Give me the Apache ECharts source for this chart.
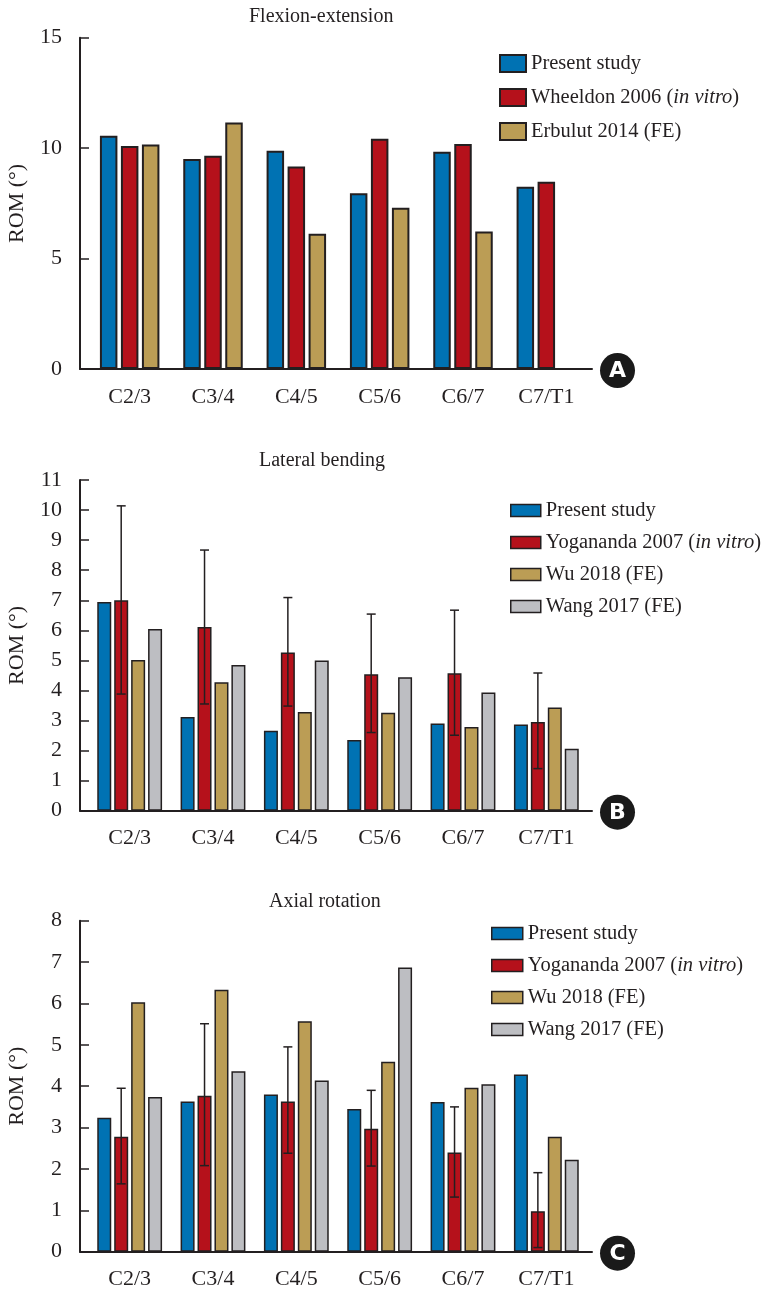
<!DOCTYPE html>
<html>
<head>
<meta charset="utf-8">
<title>ROM comparison</title>
<script src="https://cdn.jsdelivr.net/npm/echarts@6/dist/echarts.min.js"></script>
<style>
  html, body { margin: 0; padding: 0; background: #fff; }
  #chart { width: 764px; height: 1302px; }
</style>
</head>
<body>
<div id="chart"></div>
<script>
// categories (spinal levels)
const categories = ['C2/3', 'C3/4', 'C4/5', 'C5/6', 'C6/7', 'C7/T1']

// A - flexion-extension
const feNames = ['Present study', 'Wheeldon 2006 (in vitro)', 'Erbulut 2014 (FE)']
const fePresent = [10.56, 9.51, 9.88, 7.96, 9.84, 8.25]
const feWheeldon = [10.1, 9.65, 9.17, 10.43, 10.19, 8.48]
const feErbulut = [10.16, 11.16, 6.12, 7.3, 6.22, null]
const feTicks = [0, 5, 10, 15]

// B - lateral bending
const lbNames = ['Present study', 'Yogananda 2007 (in vitro)', 'Wu 2018 (FE)', 'Wang 2017 (FE)']
const lbPresent = [6.94, 3.12, 2.66, 2.35, 2.9, 2.87]
const lbYogananda = [7.0, 6.11, 5.26, 4.54, 4.57, 2.95]
const lbYogLow = [3.88, 3.55, 3.48, 2.6, 2.51, 1.4]
const lbYogHigh = [10.14, 8.67, 7.09, 6.54, 6.67, 4.58]
const lbWu = [5.01, 4.27, 3.28, 3.26, 2.78, 3.43]
const lbWang = [6.04, 4.85, 5.0, 4.44, 3.93, 2.06]
const lbTicks = [0, 1, 2, 3, 4, 5, 6, 7, 8, 9, 10, 11]

// C - axial rotation
const arNames = ['Present study', 'Yogananda 2007 (in vitro)', 'Wu 2018 (FE)', 'Wang 2017 (FE)']
const arPresent = [3.24, 3.63, 3.8, 3.45, 3.62, 4.28]
const arYogananda = [2.78, 3.77, 3.63, 2.97, 2.4, 0.98]
const arYogLow = [1.64, 2.08, 2.38, 2.07, 1.32, 0.1]
const arYogHigh = [3.95, 5.51, 4.95, 3.9, 3.5, 1.91]
const arWu = [6.03, 6.33, 5.57, 4.59, 3.96, 2.78]
const arWang = [3.74, 4.36, 4.14, 6.87, 4.05, 2.22]
const arTicks = [0, 1, 2, 3, 4, 5, 6, 7, 8]

const COLORS = ['#0072b3', '#b5111b', '#bb9d55', '#bdbec2']
const INK = '#231f20'
const SERIF = '"Liberation Serif", "DejaVu Serif", serif'

const panels = [
  {
    title: 'Flexion-extension', titleLeft: 249, titleTop: 7,
    top: 37.7, bottom: 369, ticks: feTicks,
    names: feNames, values: [fePresent, feWheeldon, feErbulut],
    barWidth: 17.5, barGap: 0.2, border: 2,
    legend: { left: 494, top: 48, w: 26, h: 17, gap: 13 },
    badge: 'A'
  },
  {
    title: 'Lateral bending', titleLeft: 259, titleTop: 451,
    top: 480, bottom: 810.7, ticks: lbTicks,
    names: lbNames, values: [lbPresent, lbYogananda, lbWu, lbWang],
    low: lbYogLow, high: lbYogHigh,
    barWidth: 14, barGap: 0.21, border: 1.5,
    legend: { left: 505, top: 495, w: 30, h: 12, gap: 11 },
    badge: 'B'
  },
  {
    title: 'Axial rotation', titleLeft: 269, titleTop: 892,
    top: 920.7, bottom: 1251.7, ticks: arTicks,
    names: arNames, values: [arPresent, arYogananda, arWu, arWang],
    low: arYogLow, high: arYogHigh,
    barWidth: 14, barGap: 0.21, border: 1.5,
    legend: { left: 486, top: 918, w: 31, h: 12, gap: 11 },
    badge: 'C'
  }
]

const grid = []
const xAxis = []
const yAxis = []
const series = []
const title = []
const legend = []
const graphic = []

// error bars drawn over the second (Yogananda) bar
function errorBars(gi, low, high, barWidth, gapRatio) {
  const pitch = barWidth * (1 + gapRatio)
  const shift = -pitch / 2
  return {
    type: 'custom',
    xAxisIndex: gi,
    yAxisIndex: gi,
    z: 5,
    silent: true,
    data: low.map((v, i) => [i, v, high[i]]),
    renderItem: (params, api) => {
      const x = api.coord([api.value(0), 0])[0] + shift
      const y0 = api.coord([api.value(0), api.value(1)])[1]
      const y1 = api.coord([api.value(0), api.value(2)])[1]
      const style = { stroke: INK, lineWidth: 1.5 }
      return {
        type: 'group',
        children: [
          { type: 'line', shape: { x1: x, y1: y0, x2: x, y2: y1 }, style },
          { type: 'line', shape: { x1: x - 4.5, y1: y1, x2: x + 4.5, y2: y1 }, style },
          { type: 'line', shape: { x1: x - 4.5, y1: y0, x2: x + 4.5, y2: y0 }, style }
        ]
      }
    }
  }
}

panels.forEach((p, k) => {
  const frame = 2 * k
  const bars = 2 * k + 1
  const height = p.bottom - p.top
  const yMax = p.ticks[p.ticks.length - 1]
  const interval = p.ticks[1] - p.ticks[0]

  // frame grid: y axis + long baseline
  grid.push({ left: 80, top: p.top, width: 512, height: height, outerBoundsMode: 'none' })
  // bar grid
  grid.push({ left: 88, top: p.top, width: 500, height: height, outerBoundsMode: 'none' })

  xAxis.push({
    type: 'value', gridIndex: frame, min: 0, max: 1,
    axisLine: { show: true, lineStyle: { color: INK, width: 2 } },
    axisTick: { show: false }, axisLabel: { show: false }, splitLine: { show: false }
  })
  xAxis.push({
    type: 'category', gridIndex: bars, data: categories,
    axisLine: { show: false }, axisTick: { show: false },
    axisLabel: { margin: 17, color: INK, fontFamily: SERIF, fontSize: 22 }
  })
  yAxis.push({
    type: 'value', gridIndex: frame, min: 0, max: yMax, interval: interval,
    name: 'ROM (°)', nameLocation: 'middle', nameGap: 52,
    nameTextStyle: { color: INK, fontFamily: SERIF, fontSize: 22 },
    axisLine: { show: true, lineStyle: { color: INK, width: 2 } },
    axisTick: { show: true, inside: true, length: 9, lineStyle: { color: INK, width: 1.5 } },
    axisLabel: { margin: 18, color: INK, fontFamily: SERIF, fontSize: 22 },
    splitLine: { show: false }
  })
  yAxis.push({
    type: 'value', gridIndex: bars, min: 0, max: yMax, interval: interval, show: false,
    splitLine: { show: false }
  })

  p.names.forEach((name, i) => {
    series.push({
      type: 'bar',
      name: name,
      xAxisIndex: bars,
      yAxisIndex: bars,
      barWidth: p.barWidth,
      barGap: p.barGap * 100 + '%',
      itemStyle: { color: COLORS[i], borderColor: INK, borderWidth: p.border },
      emphasis: { disabled: true },
      data: p.values[i]
    })
  })
  if (p.low) {
    series.push(errorBars(bars, p.low, p.high, p.barWidth, p.barGap))
  }

  title.push({
    text: p.title, left: p.titleLeft, top: p.titleTop, padding: 0,
    textStyle: { color: INK, fontFamily: SERIF, fontSize: 20, fontWeight: 'normal' }
  })

  legend.push({
    orient: 'vertical',
    left: p.legend.left,
    top: p.legend.top,
    itemWidth: p.legend.w,
    itemHeight: p.legend.h,
    itemGap: p.legend.gap,
    icon: 'rect',
    selectedMode: false,
    data: p.names.map((n, i) => ({
      name: n,
      itemStyle: { color: COLORS[i], borderColor: INK, borderWidth: p.border }
    })),
    formatter: name => name.replace('in vitro', '{i|in vitro}'),
    textStyle: {
      color: INK, fontFamily: SERIF, fontSize: 20.5,
      rich: { i: { color: INK, fontFamily: SERIF, fontSize: 20.5, fontStyle: 'italic' } }
    }
  })

  // panel letter badge
  graphic.push({
    type: 'group',
    left: 600,
    top: p.bottom + 1.5 - 17.5,
    children: [
      { type: 'circle', shape: { cx: 17.5, cy: 17.5, r: 17.5 }, style: { fill: '#1a1a1a' } },
      {
        type: 'text', x: 17.5, y: 18.5,
        style: {
          text: p.badge, fill: '#fff', align: 'center', verticalAlign: 'middle',
          font: 'bold 22px "DejaVu Sans", sans-serif'
        }
      }
    ]
  })
})

const chart = echarts.init(document.getElementById('chart'))
chart.setOption({
  animation: false,
  backgroundColor: '#fff',
  title: title,
  legend: legend,
  grid: grid,
  xAxis: xAxis,
  yAxis: yAxis,
  series: series,
  graphic: graphic
})
</script>
</body>
</html>
